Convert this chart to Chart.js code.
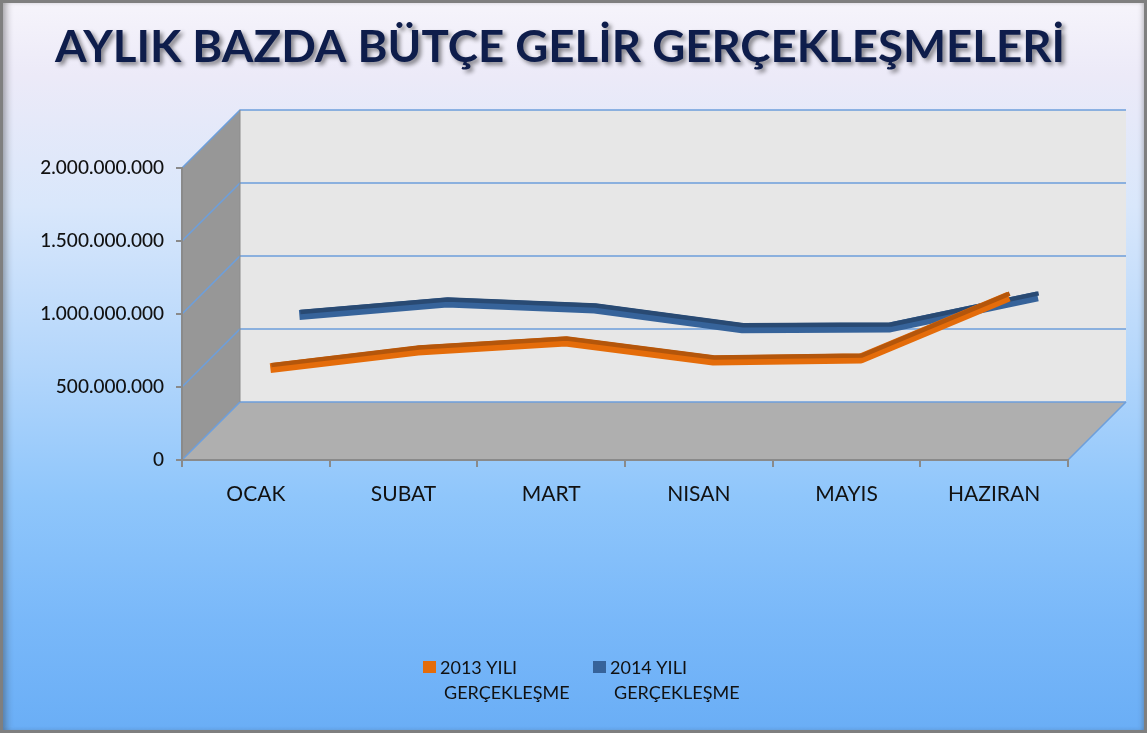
<!DOCTYPE html>
<html>
<head>
<meta charset="utf-8">
<script src="https://cdn.jsdelivr.net/npm/chart.js@4.4.1/dist/chart.umd.min.js"></script>
<style>
  html, body { margin: 0; padding: 0; width: 1147px; height: 733px; overflow: hidden; background: #ffffff; }
  #frame {
    position: absolute; left: 0; top: 0; width: 1141px; height: 727px;
    border: 3px solid #7f7f7f;
    background: linear-gradient(to bottom, #f6f4fb 0%, #eceaf8 10%, #d9e7fb 28%, #b3d6fb 50%, #8fc6fb 68%, #79b8f9 85%, #6aaef6 100%);
    box-shadow: inset 7px 0 7px -4px rgba(60,60,60,0.45), inset -4px 0 5px -3px rgba(60,60,60,0.35);
  }
  canvas { position: absolute; left: 0; top: 0; }
</style>
</head>
<body>
<div id="frame"></div>
<canvas id="c" width="1147" height="733"></canvas>
<script>
// ---- data ----
const chartTitle = 'AYLIK BAZDA BÜTÇE GELİR GERÇEKLEŞMELERİ';
const categories = ['OCAK', 'SUBAT', 'MART', 'NISAN', 'MAYIS', 'HAZIRAN'];
const values2013 = [530000000, 650000000, 712000000, 582000000, 596000000, 1020000000];
const values2014 = [695000000, 781000000, 740000000, 604000000, 610000000, 823000000];
const label2013 = ['2013 YILI', 'GERÇEKLEŞME'];
const label2014 = ['2014 YILI', 'GERÇEKLEŞME'];
const yMin = 0;
const yMax = 2000000000;
const yStep = 500000000;

// ---- styles ----
const DEPTH = 58;                 // oblique depth of the 3D box in px
const seriesDepth = [0.25, 0.75]; // series row position inside the depth
const frontColors = ['#e46c0a', '#36639a'];
const topColors = ['#b4560b', '#294a73'];
const gridBlue = '#6d9fdc';
const FONT = 'Lato, "Open Sans", sans-serif';

function fmt(v) {
  return String(v).replace(/\B(?=(\d{3})+(?!\d))/g, '.');
}

const box3d = {
  id: 'box3d',
  beforeDraw(chart) {
    const ctx = chart.ctx;
    const a = chart.chartArea;
    const y = chart.scales.y;
    const L = a.left, R = a.right, B = y.getPixelForValue(yMin), T = y.getPixelForValue(yMax);
    const D = DEPTH;
    ctx.save();
    // side wall
    ctx.beginPath();
    ctx.moveTo(L, B); ctx.lineTo(L, T); ctx.lineTo(L + D, T - D); ctx.lineTo(L + D, B - D); ctx.closePath();
    ctx.fillStyle = '#979797'; ctx.fill();
    // floor
    ctx.beginPath();
    ctx.moveTo(L, B); ctx.lineTo(R, B); ctx.lineTo(R + D, B - D); ctx.lineTo(L + D, B - D); ctx.closePath();
    ctx.fillStyle = '#afafaf'; ctx.fill();
    // back wall
    ctx.fillStyle = '#e7e7e7';
    ctx.fillRect(L + D, T - D, R - L, B - T);
    // gridlines on side wall + back wall
    ctx.strokeStyle = gridBlue; ctx.lineWidth = 1.6;
    for (let v = yMin; v <= yMax; v += yStep) {
      const py = y.getPixelForValue(v);
      ctx.beginPath();
      ctx.moveTo(L, py); ctx.lineTo(L + D, py - D); ctx.lineTo(R + D, py - D);
      ctx.stroke();
    }
    // floor right edge
    ctx.beginPath();
    ctx.moveTo(R, B); ctx.lineTo(R + D, B - D);
    ctx.stroke();
    // side wall back edge
    ctx.strokeStyle = '#8c8c8c'; ctx.lineWidth = 1;
    ctx.beginPath(); ctx.moveTo(L + D, T - D); ctx.lineTo(L + D, B - D); ctx.stroke();
    ctx.restore();

    // title (tall, slightly condensed to fit width)
    ctx.save();
    const size = 44;
    ctx.font = 'bold ' + size + 'px ' + FONT;
    const w = ctx.measureText(chartTitle).width;
    const sx = 1010 / w;
    ctx.translate(560, 62);
    ctx.scale(sx, 1);
    ctx.textAlign = 'center';
    ctx.textBaseline = 'alphabetic';
    ctx.shadowColor = 'rgba(0,0,0,0.45)';
    ctx.shadowOffsetX = 3; ctx.shadowOffsetY = 3; ctx.shadowBlur = 4;
    ctx.fillStyle = '#0e1d4b';
    ctx.fillText(chartTitle, 0, 0);
    ctx.restore();
  },
  beforeDatasetDraw(chart, args) {
    const d = DEPTH * seriesDepth[args.index];
    chart.ctx.save();
    chart.ctx.translate(d, -d);
  },
  afterDatasetDraw(chart, args) {
    const ctx = chart.ctx;
    const pts = args.meta.data;
    ctx.save();
    ctx.beginPath();
    pts.forEach((p, i) => {
      if (i === 0) ctx.moveTo(p.x + 1, p.y - 3); else ctx.lineTo(p.x + 1, p.y - 3);
    });
    ctx.strokeStyle = topColors[args.index];
    ctx.lineWidth = 4.5;
    ctx.lineJoin = 'bevel';
    ctx.stroke();
    ctx.restore();
    ctx.restore();
  },
  afterDraw(chart) {
    const ctx = chart.ctx;
    ctx.save();
    ctx.font = '18px ' + FONT;
    ctx.textBaseline = 'middle';
    const xs = [423, 593];
    chart.data.datasets.forEach((ds, i) => {
      const x = xs[i];
      ctx.fillStyle = frontColors[i];
      ctx.fillRect(x, 661, 13, 12);
      ctx.fillStyle = '#111111';
      ctx.fillText(ds.label[0], x + 17, 668);
      ctx.fillText(ds.label[1], x + 21, 693);
    });
    ctx.restore();
  }
};

new Chart(document.getElementById('c'), {
  type: 'line',
  data: {
    labels: categories,
    datasets: [
      { label: label2013, data: values2013, borderColor: frontColors[0], borderWidth: 10, pointRadius: 0, tension: 0, clip: false, borderJoinStyle: 'bevel' },
      { label: label2014, data: values2014, borderColor: frontColors[1], borderWidth: 10, pointRadius: 0, tension: 0, clip: false, borderJoinStyle: 'bevel' }
    ]
  },
  options: {
    responsive: false,
    animation: false,
    devicePixelRatio: 1,
    layout: { padding: { left: 0, right: 79, top: 168, bottom: 213 } },
    plugins: { legend: { display: false }, title: { display: false }, tooltip: { enabled: false } },
    scales: {
      x: {
        offset: true,
        afterFit(s) { s.height = 60; },
        grid: { offset: true, drawOnChartArea: false, drawTicks: true, tickLength: 7, color: '#8a8a8a', lineWidth: 2 },
        border: { display: true, color: '#8a8a8a', width: 2 },
        ticks: { padding: 15, color: '#111111', font: { family: FONT, size: 21 } }
      },
      y: {
        min: yMin, max: yMax,
        afterFit(s) { s.width = 182; },
        afterBuildTicks(s) {
          const t = [];
          for (let v = yMin; v <= yMax; v += yStep) t.push({ value: v });
          s.ticks = t;
        },
        grid: { drawOnChartArea: false, drawTicks: true, tickLength: 6, color: '#8a8a8a', lineWidth: 2 },
        border: { display: true, color: '#8a8a8a', width: 2 },
        ticks: { padding: 12, color: '#111111', font: { family: FONT, size: 19, weight: '500' }, callback: (v) => fmt(v) }
      }
    }
  },
  plugins: [box3d]
});
</script>
</body>
</html>
